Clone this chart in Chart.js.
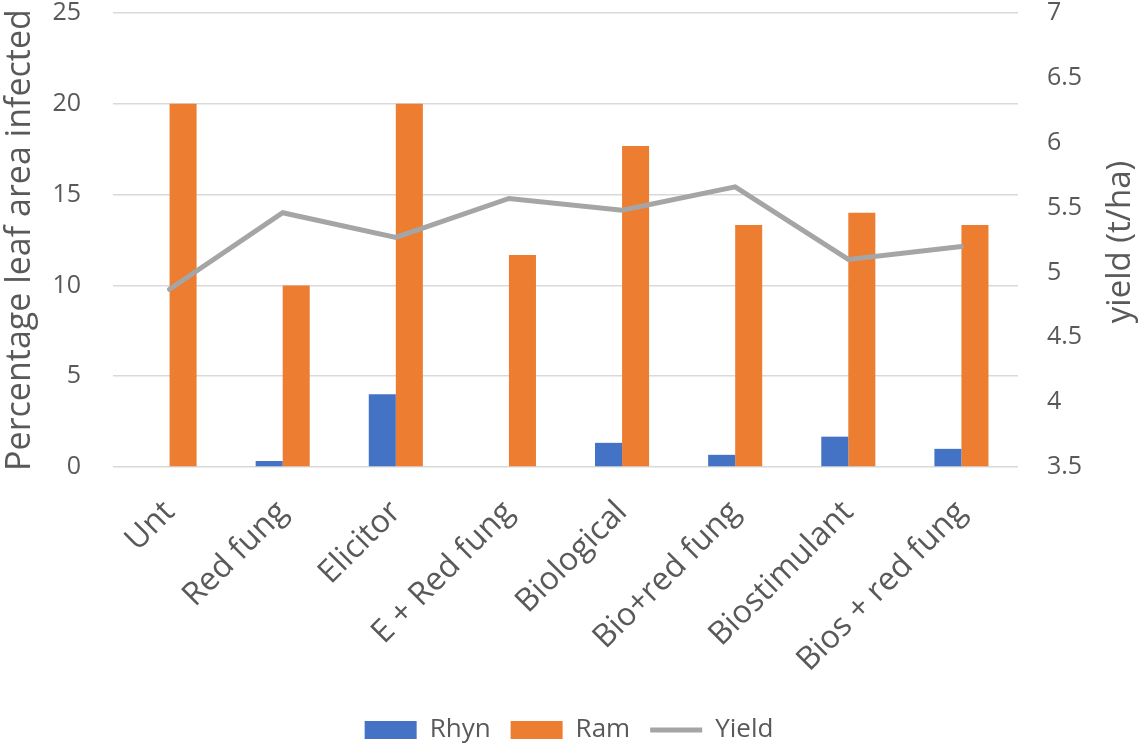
<!DOCTYPE html>
<html>
<head>
<meta charset="utf-8">
<script src="https://cdn.jsdelivr.net/npm/chart.js@4.4.0/dist/chart.umd.min.js"></script>
<style>
  html, body { margin: 0; padding: 0; background: #fff; }
  #wrap { width: 1138px; height: 743px; }
</style>
</head>
<body>
<div id="wrap"><canvas id="leafChart" width="1138" height="743"></canvas></div>
<script>
// Treatments and measured values
const treatments = ['Unt', 'Red fung', 'Elicitor', 'E + Red fung', 'Biological', 'Bio+red fung', 'Biostimulant', 'Bios + red fung'];
const rhynValues = [0, 0.33, 4, 0, 1.33, 0.67, 1.67, 1];
const ramValues = [20, 10, 20, 11.67, 17.67, 13.33, 14, 13.33];
const yieldValues = [4.87, 5.46, 5.27, 5.57, 5.48, 5.66, 5.10, 5.20];

const leftTitle = 'Percentage leaf area infected';
const rightTitleText = 'yield (t/ha)';

const TEXT = '#595959';
const CANVAS_H = 743;
const PLOT_BOTTOM = 467;
const PAD_BOTTOM = -10;

Chart.defaults.font.family = '"Open Sans", sans-serif';
Chart.defaults.color = TEXT;

// right axis title reads bottom-to-top, so draw it ourselves
const rightTitle = {
  id: 'rightTitle',
  afterDraw(chart) {
    const s = chart.scales.y1;
    const ctx = chart.ctx;
    ctx.save();
    ctx.translate(s.right - 17, (s.top + s.bottom) / 2 + 2);
    ctx.rotate(-Math.PI / 2);
    ctx.font = '33px "Open Sans", sans-serif';
    ctx.fillStyle = TEXT;
    ctx.textAlign = 'center';
    ctx.textBaseline = 'middle';
    ctx.fillText(rightTitleText, 0, 0);
    ctx.restore();
  }
};

const canvas = document.getElementById('leafChart');

new Chart(canvas, {
  type: 'bar',
  data: {
    labels: treatments,
    datasets: [
      {
        label: 'Rhyn',
        data: rhynValues,
        backgroundColor: '#4472C4',
        borderWidth: 0,
        pointStyle: 'rect',
        yAxisID: 'y',
        order: 1
      },
      {
        label: 'Ram',
        data: ramValues,
        backgroundColor: '#ED7D31',
        borderWidth: 0,
        pointStyle: 'rect',
        yAxisID: 'y',
        order: 1
      },
      {
        type: 'line',
        label: 'Yield',
        data: yieldValues,
        borderColor: '#A5A5A5',
        backgroundColor: '#A5A5A5',
        borderWidth: 5,
        borderCapStyle: 'round',
        pointRadius: 0,
        pointStyle: 'line',
        tension: 0,
        fill: false,
        yAxisID: 'y1',
        order: 0
      }
    ]
  },
  options: {
    responsive: false,
    animation: false,
    layout: { padding: { top: 13, bottom: PAD_BOTTOM, left: 0, right: 0 } },
    datasets: {
      bar: { categoryPercentage: 0.478, barPercentage: 1 }
    },
    plugins: {
      legend: {
        position: 'bottom',
        labels: {
          usePointStyle: true,
          pointStyleWidth: 52,
          boxHeight: 18,
          padding: 20,
          color: TEXT,
          font: { size: 26 },
          sort: (a, b) => a.datasetIndex - b.datasetIndex
        }
      },
      tooltip: { enabled: false }
    },
    scales: {
      x: {
        grid: { display: false, drawTicks: false },
        border: { display: false },
        ticks: {
          maxRotation: 45,
          minRotation: 45,
          padding: 40,
          color: TEXT,
          // tiny line height keeps the rotated label end close to its tick
          font: { size: 32, lineHeight: 0.01 }
        },
        afterFit: function(scale) {
          scale.height = CANVAS_H - PLOT_BOTTOM - scale.chart.legend.height - PAD_BOTTOM;
        }
      },
      y: {
        position: 'left',
        min: 0,
        max: 25,
        ticks: {
          stepSize: 5,
          padding: 0,
          color: TEXT,
          font: { size: 25, lineHeight: 1 }
        },
        // transparent tick marks keep the labels clear of the plot
        grid: { color: '#D9D9D9', lineWidth: 1.5, drawTicks: true, tickLength: 32, tickColor: 'rgba(0,0,0,0)' },
        border: { display: false },
        title: {
          display: true,
          text: leftTitle,
          color: TEXT,
          font: { size: 34 },
          padding: { top: 0, bottom: 0 }
        },
        afterFit: function(scale) {
          scale.width = 113;
        }
      },
      y1: {
        position: 'right',
        min: 3.5,
        max: 7,
        ticks: {
          stepSize: 0.5,
          padding: 0,
          color: TEXT,
          font: { size: 25, lineHeight: 1 },
          callback: v => String(v)
        },
        grid: { drawOnChartArea: false, drawTicks: true, tickLength: 29, tickColor: 'rgba(0,0,0,0)' },
        border: { display: false },
        afterFit: function(scale) {
          scale.width = 120;
        }
      }
    }
  },
  plugins: [rightTitle]
});
</script>
</body>
</html>
